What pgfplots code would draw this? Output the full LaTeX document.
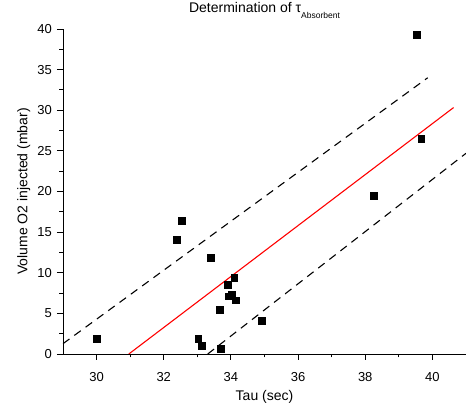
\documentclass[border=0pt]{standalone}
\usepackage{fontspec}
\setmainfont{Liberation Sans}
\usepackage{pgfplots}
\pgfplotsset{compat=1.18}

\begin{document}
\begin{tikzpicture}
\begin{axis}[
    scale only axis,
    width=403pt, height=325pt,
    xmin=29, xmax=41,
    ymin=0, ymax=40,
    axis x line*=bottom,
    axis y line*=left,
    axis line style={line width=0.9pt},
    xtick={30,32,...,40},
    ytick={0,5,...,40},
    minor x tick num=1,
    minor y tick num=1,
    tick align=outside,
    major tick length=6pt,
    minor tick length=3.5pt,
    every tick/.style={black, line width=0.9pt},
    /pgf/number format/assume math mode=true,
    tick label style={font=\fontsize{13}{15}\selectfont},
    xticklabel style={anchor=base, yshift=-21.7pt},
    yticklabel style={anchor=east, inner sep=0pt, xshift=-5pt},
    title={Determination of τ\raisebox{-6.5pt}{\fontsize{8.5}{10}\selectfont Absorbent}},
    title style={font=\fontsize{14}{17}\selectfont, anchor=base, at={(axis description cs:0.5,1.033)}},
    xlabel={Tau (sec)},
    ylabel={Volume O2 injected (mbar)},
    label style={font=\fontsize{14}{17}\selectfont},
    xlabel style={anchor=base, at={(axis description cs:0.5,-0.1437)}},
    ylabel style={anchor=base, at={(axis description cs:-0.0886,0.5)}},
    clip=true,
]

% measurements
\addplot[only marks, mark=square*, mark size=3.3pt, black]
    coordinates {
    (30.00,1.88)(32.38,14.06)(32.53,16.43)(33.40,11.88)(33.03,1.85)
    (33.13,1.02)(33.69,0.65)(33.66,5.45)(33.91,8.52)(34.10,9.42)
    (33.94,7.09)(34.03,7.33)(34.14,6.64)(34.92,4.13)(38.25,19.5)
    (39.54,39.3)(39.66,26.5)
    };

% linear fit
\addplot[red, line width=1.1pt]
    coordinates {(30.96,0)(40.63,30.33)};

% prediction bands
\addplot[black, line width=1.1pt, dash pattern=on 8pt off 6pt]
    coordinates {(29,1.27)(39.86,34.0)};
\addplot[black, line width=1.1pt, dash pattern=on 8pt off 6pt]
    coordinates {(33.31,0)(41,24.7)};

\end{axis}
\pgfresetboundingbox
\useasboundingbox ([shift={(-63pt,-50pt)}]current axis.south west) rectangle ([shift={(0pt,29pt)}]current axis.north east);
\end{tikzpicture}
\end{document}
